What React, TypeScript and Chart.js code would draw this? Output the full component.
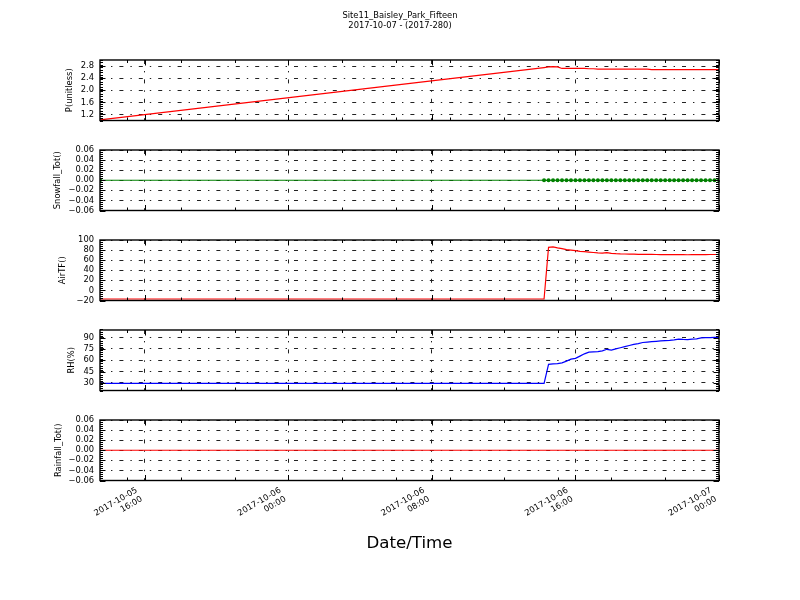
import React, { useEffect, useRef } from "react";
import { Chart, registerables } from "chart.js";

Chart.register(...registerables);
Chart.defaults.font.family = "'DejaVu Sans', sans-serif";
Chart.defaults.color = "#000";

// ---------------- data ----------------
const titleLines = ["Site11_Baisley_Park_Fifteen", "2017-10-07 - (2017-280)"];
const xAxisTitle = "Date/Time";

// hours since 2017-10-05 00:00
const times = [
  13.5, 38.25, 38.5, 38.75, 39, 39.25, 39.5, 39.75, 40, 40.25, 40.5, 40.75,
  41, 41.25, 41.5, 41.75, 42, 42.25, 42.5, 42.75, 43, 43.25, 43.5, 43.75,
  44, 44.25, 44.5, 44.75, 45, 45.25, 45.5, 45.75, 46, 46.25, 46.5, 46.75,
  47, 47.25, 47.5, 47.75, 48,
];

const pValues = [
  1.02, 2.75, 2.77, 2.78, 2.77, 2.72, 2.72, 2.72, 2.72, 2.72, 2.72, 2.71,
  2.71, 2.7, 2.7, 2.7, 2.7, 2.7, 2.7, 2.7, 2.7, 2.7, 2.7, 2.7,
  2.7, 2.68, 2.68, 2.68, 2.68, 2.68, 2.68, 2.68, 2.68, 2.68, 2.68, 2.68,
  2.68, 2.68, 2.68, 2.68, 2.68,
];

const snowValues = [
  0, 0, 0, 0, 0, 0, 0, 0, 0, 0, 0, 0,
  0, 0, 0, 0, 0, 0, 0, 0, 0, 0, 0, 0,
  0, 0, 0, 0, 0, 0, 0, 0, 0, 0, 0, 0,
  0, 0, 0, 0, 0,
];

const airValues = [
  -17, -17, 85.5, 86.5, 84.5, 83, 81, 80, 78.8, 77.5, 76.8, 76,
  75.2, 74.5, 74, 75, 73.5, 72.8, 72.4, 72.2, 72, 71.8, 71.6, 71.5,
  71.4, 71.3, 71.2, 71.1, 71, 71, 70.9, 70.8, 70.8, 70.7, 70.8, 71,
  71, 71.1, 71.2, 71.2, 71.2,
];

const rhValues = [
  29.5, 29.5, 54.5, 55.3, 55.5, 56.5, 58.8, 61.5, 62.5, 65.5, 68.5, 70.8,
  71.2, 71.5, 72.5, 74.5, 73.5, 75, 76.5, 78, 79.5, 81, 82, 83.5,
  84, 84.5, 85, 85.5, 86, 86.3, 87, 88, 87.5, 87.3, 88, 88.3,
  89.5, 89.8, 90, 90.2, 90.3,
];

const rainValues = [
  0, 0, 0, 0, 0, 0, 0, 0, 0, 0, 0, 0,
  0, 0, 0, 0, 0, 0, 0, 0, 0, 0, 0, 0,
  0, 0, 0, 0, 0, 0, 0, 0, 0, 0, 0, 0,
  0, 0, 0, 0, 0,
];

// x ticks
const xMajorTicks = [16, 24, 32, 40, 48];
const xTickDates = ["2017-10-05", "2017-10-06", "2017-10-06", "2017-10-06", "2017-10-07"];
const xTickTimes = ["16:00", "00:00", "08:00", "16:00", "00:00"];
const xMinorTicks = [15, 18, 21, 24, 27, 30, 33, 36, 39, 42, 45, 48];

// y ticks
const pTicks = [1.2, 1.6, 2.0, 2.4, 2.8];
const pTickLabels = ["1.2", "1.6", "2.0", "2.4", "2.8"];
const snowTicks = [-0.06, -0.04, -0.02, 0, 0.02, 0.04, 0.06];
const snowTickLabels = ["\u22120.06", "\u22120.04", "\u22120.02", "0.00", "0.02", "0.04", "0.06"];
const airTicks = [-20, 0, 20, 40, 60, 80, 100];
const airTickLabels = ["\u221220", "0", "20", "40", "60", "80", "100"];
const rhTicks = [30, 45, 60, 75, 90];
const rhTickLabels = ["30", "45", "60", "75", "90"];
const rainTicks = [-0.06, -0.04, -0.02, 0, 0.02, 0.04, 0.06];
const rainTickLabels = ["\u22120.06", "\u22120.04", "\u22120.02", "0.00", "0.02", "0.04", "0.06"];

// ---------------- layout / style ----------------
const X_MIN = 13.5;
const X_MAX = 48;
const SMALL = 8.33;
const GRID_DASH = [4, 7, 1.4, 7];

type Spec = {
  id: string;
  label: string;
  values: number[];
  color: string;
  yMin: number;
  yMax: number;
  ticks: number[];
  tickLabels: string[];
  minorStep: number;
  markers: boolean;
  titleX: number;
  canvasTop: number;
  canvasH: number;
  padTop: number;
  padBottom: number;
  first: boolean;
  last: boolean;
};

const specs: Spec[] = [
  { id: "p", label: "P(unitless)", values: pValues, color: "#ff0000", yMin: 1.0, yMax: 3.0, ticks: pTicks, tickLabels: pTickLabels, minorStep: 0.08, markers: false, titleX: 70, canvasTop: 0, canvasH: 136, padTop: 0, padBottom: 15.5, first: true, last: false },
  { id: "snow", label: "Snowfall_Tot()", values: snowValues, color: "#008000", yMin: -0.06, yMax: 0.06, ticks: snowTicks, tickLabels: snowTickLabels, minorStep: 0.004, markers: true, titleX: 58, canvasTop: 135, canvasH: 91, padTop: 15, padBottom: 15.5, first: false, last: false },
  { id: "air", label: "AirTF()", values: airValues, color: "#ff0000", yMin: -20, yMax: 100, ticks: airTicks, tickLabels: airTickLabels, minorStep: 4, markers: false, titleX: 63, canvasTop: 225, canvasH: 91, padTop: 15, padBottom: 15.5, first: false, last: false },
  { id: "rh", label: "RH(%)", values: rhValues, color: "#0000ff", yMin: 20, yMax: 100, ticks: rhTicks, tickLabels: rhTickLabels, minorStep: 3, markers: false, titleX: 71.5, canvasTop: 315, canvasH: 91, padTop: 15, padBottom: 15.5, first: false, last: false },
  { id: "rain", label: "Rainfall_Tot()", values: rainValues, color: "#ff0000", yMin: -0.06, yMax: 0.06, ticks: rainTicks, tickLabels: rainTickLabels, minorStep: 0.004, markers: false, titleX: 58.5, canvasTop: 405, canvasH: 195, padTop: 15, padBottom: 0, first: false, last: true },
];

function buildChart(canvas: HTMLCanvasElement, spec: Spec) {
  const framePlugin = {
    id: "frame_" + spec.id,
    afterDraw(chart: any) {
      const { ctx, chartArea } = chart;
      const { left, right, top, bottom } = chartArea;
      const xs = chart.scales.x;
      const ys = chart.scales.y;
      ctx.save();
      ctx.strokeStyle = "#000";
      ctx.lineWidth = 1;
      ctx.setLineDash([]);
      ctx.beginPath();
      const vx = (v: number, len: number) => {
        const px = Math.round(xs.getPixelForValue(v)) + 0.5;
        ctx.moveTo(px, top);
        ctx.lineTo(px, top + len);
        ctx.moveTo(px, bottom);
        ctx.lineTo(px, bottom - len);
      };
      const hy = (v: number, len: number) => {
        const py = Math.round(ys.getPixelForValue(v)) + 0.5;
        ctx.moveTo(left, py);
        ctx.lineTo(left + len, py);
        ctx.moveTo(right, py);
        ctx.lineTo(right - len, py);
      };
      xMinorTicks.forEach((v) => vx(v, 3));
      xMajorTicks.forEach((v) => vx(v, 5.5));
      const n = Math.round((spec.yMax - spec.yMin) / spec.minorStep);
      for (let k = 0; k <= n; k++) hy(spec.yMin + k * spec.minorStep, 3);
      spec.ticks.forEach((v) => hy(v, 5.5));
      ctx.stroke();
      ctx.lineWidth = 1.4;
      ctx.strokeRect(left, top, right - left, bottom - top);
      ctx.restore();
    },
  };

  const gridOpts = { color: "#222", lineWidth: 1, drawTicks: false };
  const borderOpts = { display: false, dash: GRID_DASH };

  return new Chart(canvas, {
    type: "line",
    data: {
      datasets: [
        {
          data: times.map((t, i) => ({ x: t, y: spec.values[i] })),
          borderColor: spec.color,
          backgroundColor: spec.color,
          borderWidth: 1.2,
          pointRadius: spec.markers ? 2 : 0,
          pointBackgroundColor: spec.color,
          pointBorderWidth: 0,
          tension: 0,
          fill: false,
        },
      ],
    },
    options: {
      responsive: false,
      maintainAspectRatio: false,
      animation: false,
      devicePixelRatio: 1,
      events: [],
      layout: { padding: { top: spec.padTop, bottom: spec.padBottom, left: 0, right: 0 } },
      plugins: {
        legend: { display: false },
        tooltip: { enabled: false },
        title: spec.first
          ? {
              display: true,
              text: titleLines,
              font: { size: SMALL, weight: "normal" },
              color: "#000",
              padding: { top: 11, bottom: 29 },
            }
          : { display: false },
      },
      scales: {
        x: {
          type: "linear",
          position: "bottom",
          min: X_MIN,
          max: X_MAX,
          afterBuildTicks: (s: any) => {
            s.ticks = xMajorTicks.map((v) => ({ value: v }));
          },
          grid: gridOpts,
          border: borderOpts,
          ticks: {
            display: spec.last,
            autoSkip: false,
            maxRotation: 30,
            minRotation: 30,
            padding: 5,
            labelOffset: -8,
            font: { size: SMALL },
            color: "#000",
            callback: (_v: any, i: number) => [xTickDates[i], xTickTimes[i]],
          },
          title: spec.last
            ? { display: true, text: xAxisTitle, font: { size: 16.67 }, color: "#000", padding: { top: 0, bottom: 46 } }
            : { display: false },
          afterFit: (s: any) => {
            s.height = spec.last ? 119.5 : 0;
          },
        },
        y: {
          type: "linear",
          position: "left",
          min: spec.yMin,
          max: spec.yMax,
          afterBuildTicks: (s: any) => {
            s.ticks = spec.ticks.map((v) => ({ value: v }));
          },
          grid: gridOpts,
          border: borderOpts,
          ticks: {
            autoSkip: false,
            padding: 6,
            font: { size: SMALL },
            color: "#000",
            callback: (_v: any, i: number) => spec.tickLabels[i],
          },
          title: {
            display: true,
            text: spec.label,
            font: { size: SMALL },
            color: "#000",
            padding: { top: spec.titleX - 5, bottom: 0 },
          },
          afterFit: (s: any) => {
            s.width = 100;
          },
        },
        y2: {
          type: "linear",
          position: "right",
          display: true,
          grid: { display: false, drawTicks: false },
          border: { display: false },
          ticks: { display: false },
          afterFit: (s: any) => {
            s.width = 81;
          },
        },
      },
    } as any,
    plugins: [framePlugin],
  });
}

function PanelCanvas({ spec }: { spec: Spec }) {
  const ref = useRef<HTMLCanvasElement | null>(null);
  useEffect(() => {
    if (!ref.current) return;
    const chart = buildChart(ref.current, spec);
    return () => chart.destroy();
  }, [spec]);
  return (
    <canvas
      ref={ref}
      width={800}
      height={spec.canvasH}
      style={{ position: "absolute", left: 0, top: spec.canvasTop, width: 800, height: spec.canvasH }}
    />
  );
}

export default function App() {
  return (
    <div style={{ position: "absolute", left: 0, top: 0, width: 800, height: 600, background: "#fff" }}>
      {specs.map((s) => (
        <PanelCanvas key={s.id} spec={s} />
      ))}
    </div>
  );
}
